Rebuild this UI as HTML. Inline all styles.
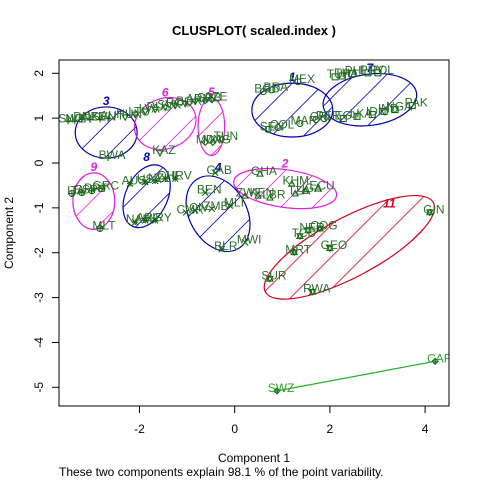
<!DOCTYPE html>
<html><head><meta charset="utf-8"><style>
html,body{margin:0;padding:0;background:#fff;}
svg{display:block;font-family:"Liberation Sans",sans-serif;}
</style></head><body>
<svg id="chart" width="480" height="480" viewBox="0 0 480 480">
<defs>
<clipPath id="plotclip"><rect x="59" y="60" width="390" height="346"/></clipPath>
</defs>
<text x="254" y="35" text-anchor="middle" font-size="13" font-weight="bold">CLUSPLOT( scaled.index )</text>
<g id="axes"></g>
<g id="plot" clip-path="url(#plotclip)"></g>
<rect x="59" y="60" width="390" height="346" fill="none" stroke="#000"/>
<text x="254" y="462" text-anchor="middle" font-size="12">Component 1</text>
<text x="59" y="476" font-size="12">These two components explain 98.1 % of the point variability.</text>
<text transform="translate(13,233) rotate(-90)" text-anchor="middle" font-size="12">Component 2</text>
</svg>
<script>
const xTicks = [-2, 0, 2, 4];
const yTicks = [2, 1, 0, -1, -2, -3, -4, -5];
// cluster ellipses: id, center x, center y, semi-axis x, semi-axis y (data units), tilt
const clusterIds = [1, 2, 3, 4, 5, 6, 7, 8, 9, 11];
const clusterCx = [1.21, 1.06, -2.70, -0.35, -0.49, -1.46, 2.84, -1.85, -2.96, 2.41];
const clusterCy = [1.18, -0.57, 0.68, -1.13, 0.81, 0.88, 1.41, -0.74, -0.85, -1.88];
const clusterRx = [0.85, 1.09, 0.65, 0.60, 0.28, 0.66, 0.99, 0.44, 0.44, 2.0];
const clusterRy = [0.60, 0.42, 0.57, 0.90, 0.64, 0.56, 0.57, 0.74, 0.63, 0.66];
const clusterTilt = [0, 8, 0, -30, 0, -20, -8, 25, 0, -28];
const clusterColor = ["#0000b0", "#e020e0", "#0000b0", "#0000b0", "#e020e0", "#e020e0", "#0000b0", "#0000b0", "#e020e0", "#d00020"];
// points
const pointLabels = ["SWE","NOR","DNK","CZE","SVN","AUT","BWA",
 "HUN","LTU","LVA","RUS","SVK","ROU","BGR","ARM","KAZ",
 "SRB","AZE","MDA","MNG","TUN",
 "ITA","ESP","PRT","GRC","MLT",
 "AUS","USA","NZL","CHL","HRV","NAM","ARG","URY",
 "GAB","BEN","CMR","CIV","ZMB","MLI","BLR","MWI",
 "GHA","KHM","ZWE","KEN","LBR","TZA","UGA","ECU",
 "GIN","NER","COG","GEO","MRT","TCD","SUR","RWA",
 "BGD","BRA","MEX","SEN","COL","MAR","CRI","PER",
 "TUR","THA","PHL","PRY","POL","EGY","LKA","IDN","IND","NGA","PAK",
 "SWZ","CAF"];
const pointX = [-3.50,-3.36,-3.21,-3.04,-2.83,-2.66,-2.66,
 -2.30,-2.09,-1.88,-1.67,-1.46,-1.25,-1.04,-0.83,-1.57,
 -0.62,-0.48,-0.62,-0.46,-0.27,
 -3.42,-3.21,-3.00,-2.79,-2.83,
 -2.20,-1.88,-1.67,-1.46,-1.25,-2.09,-1.88,-1.67,
 -0.41,-0.62,-1.02,-0.83,-0.48,-0.10,-0.27,0.22,
 0.53,1.20,0.22,0.49,0.74,1.27,1.48,1.75,
 4.10,1.54,1.79,2.00,1.25,1.37,0.74,1.64,
 0.60,0.78,1.33,0.70,0.91,1.37,1.71,1.88,
 2.11,2.26,2.47,2.80,3.01,2.28,2.57,2.89,3.14,3.37,3.73,
 0.89,4.21];
const pointY = [0.93,0.93,0.97,0.97,0.97,0.99,0.11,
 1.02,1.08,1.15,1.19,1.24,1.28,1.32,1.37,0.22,
 1.39,1.41,0.46,0.46,0.53,
 -0.68,-0.66,-0.62,-0.57,-1.46,
 -0.46,-0.42,-0.40,-0.35,-0.35,-1.32,-1.28,-1.28,
 -0.22,-0.66,-1.10,-1.06,-1.02,-0.95,-1.92,-1.77,
 -0.24,-0.46,-0.73,-0.73,-0.77,-0.68,-0.62,-0.57,
 -1.10,-1.50,-1.46,-1.90,-1.99,-1.63,-2.58,-2.87,
 1.59,1.63,1.81,0.75,0.79,0.88,0.97,0.99,
 1.92,1.94,1.99,2.01,2.01,0.99,1.04,1.08,1.15,1.19,1.28,
 -5.08,-4.42];
const pointCluster = [3,3,3,3,3,3,3, 6,6,6,6,6,6,6,6,6, 5,5,5,5,5, 9,9,9,9,9, 8,8,8,8,8,8,8,8,
 4,4,4,4,4,4,4,4, 2,2,2,2,2,2,2,2, 11,11,11,11,11,11,11,11, 1,1,1,1,1,1,1,1,
 7,7,7,7,7,7,7,7,7,7,7, 10,10];
const pointSymbol = {1:"o",2:"tri",3:"plus",4:"x",5:"diamond",6:"tridown",7:"square",8:"star",9:"circplus",10:"diamplus",11:"david"};

const NS = "http://www.w3.org/2000/svg";
function sx(v){ return 234.7 + v * 47.6; }
function sy(v){ return 163 + -v * 44.86; }
function mk(tag, attrs, parent){ const e=document.createElementNS(NS,tag); for(const k in attrs) e.setAttribute(k,attrs[k]); parent.appendChild(e); return e; }
const axes=document.getElementById('axes'), plot=document.getElementById('plot'), defs=document.querySelector('defs');

xTicks.forEach(t=>{
  const l=mk('line',{x1:sx(t),x2:sx(t),y1:406,y2:413,stroke:'#000'},axes);
  
  
  const tx=mk('text',{x:sx(t),y:433,'text-anchor':'middle','font-size':12},axes);
  tx.textContent=t;
  
  
});
yTicks.forEach(t=>{
  const l=mk('line',{x1:52,x2:59,y1:sy(t),y2:sy(t),stroke:'#000'},axes);
  
  
  const tx=mk('text',{transform:`translate(43,${sy(t)}) rotate(-90)`,'text-anchor':'middle','font-size':12},axes);
  tx.textContent=t;
  
  
});

clusterIds.forEach((id,i)=>{
  const cx=sx(clusterCx[i]), cy=sy(clusterCy[i]), rx=clusterRx[i]*47.6, ry=clusterRy[i]*44.86, col=clusterColor[i];
  const tr=`rotate(${clusterTilt[i]} ${cx} ${cy})`;
  const cp=mk('clipPath',{id:'cl'+id},defs);
  mk('ellipse',{cx:cx,cy:cy,rx:rx,ry:ry,transform:tr},cp);
  const hg=mk('g',{'clip-path':`url(#cl${id})`},plot);
  
  
  const R=Math.max(rx,ry)+5;
  for(let d=-2*R; d<=2*R; d+=32){
    mk('line',{x1:cx+d-R,y1:cy+R,x2:cx+d+R,y2:cy-R,stroke:col,'stroke-width':0.8},hg);
  }
  const el=mk('ellipse',{cx:cx,cy:cy,rx:rx,ry:ry,transform:tr,fill:'none',stroke:col,'stroke-width':1.2},plot);
  
  
  const lb=mk('text',{x:cx+(id===11?40:0),y:cy-ry-2+(id===11?-8:0),'text-anchor':'middle','font-size':12,'font-weight':'bold','font-style':'italic',fill:col},plot);
  lb.textContent=id;
  
  
});

const i10=pointCluster.map((c,i)=>c===10?i:-1).filter(i=>i>=0);
const seg=mk('line',{x1:sx(pointX[i10[0]]),y1:sy(pointY[i10[0]]),x2:sx(pointX[i10[1]]),y2:sy(pointY[i10[1]]),stroke:'#20b020','stroke-width':1.2},plot);



function sym(type,x,y,g){
  const s={stroke:'#006400',fill:'none','stroke-width':1};
  const r=3;
  const tri=(d)=>`${x},${y-d*r} ${x-r},${y+d*r*0.8} ${x+r},${y+d*r*0.8}`;
  if(type==='o') mk('circle',Object.assign({cx:x,cy:y,r:r},s),g);
  if(type==='tri'||type==='david') mk('polygon',Object.assign({points:tri(1)},s),g);
  if(type==='tridown'||type==='david') mk('polygon',Object.assign({points:tri(-1)},s),g);
  if(type==='plus'||type==='star'||type==='circplus'||type==='diamplus'){ mk('line',Object.assign({x1:x-r,x2:x+r,y1:y,y2:y},s),g); mk('line',Object.assign({x1:x,x2:x,y1:y-r,y2:y+r},s),g); }
  if(type==='x'||type==='star'){ mk('line',Object.assign({x1:x-r,x2:x+r,y1:y-r,y2:y+r},s),g); mk('line',Object.assign({x1:x-r,x2:x+r,y1:y+r,y2:y-r},s),g); }
  if(type==='diamond'||type==='diamplus') mk('polygon',Object.assign({points:`${x},${y-r} ${x+r},${y} ${x},${y+r} ${x-r},${y}`},s),g);
  if(type==='square') mk('rect',Object.assign({x:x-r,y:y-r,width:2*r,height:2*r},s),g);
  if(type==='circplus') mk('circle',Object.assign({cx:x,cy:y,r:r},s),g);
}
pointLabels.forEach((lab,i)=>{
  const x=sx(pointX[i]), y=sy(pointY[i]);
  const g=mk('g',{},plot);
  
  
  sym(pointSymbol[pointCluster[i]],x,y,g);
  const t=mk('text',{x:x+4,y:y+1,'text-anchor':'middle','font-size':12,fill:pointCluster[i]===10?'#30a030':'#2e6b2e'},g);
  t.textContent=lab;
});
</script>
</body></html>
